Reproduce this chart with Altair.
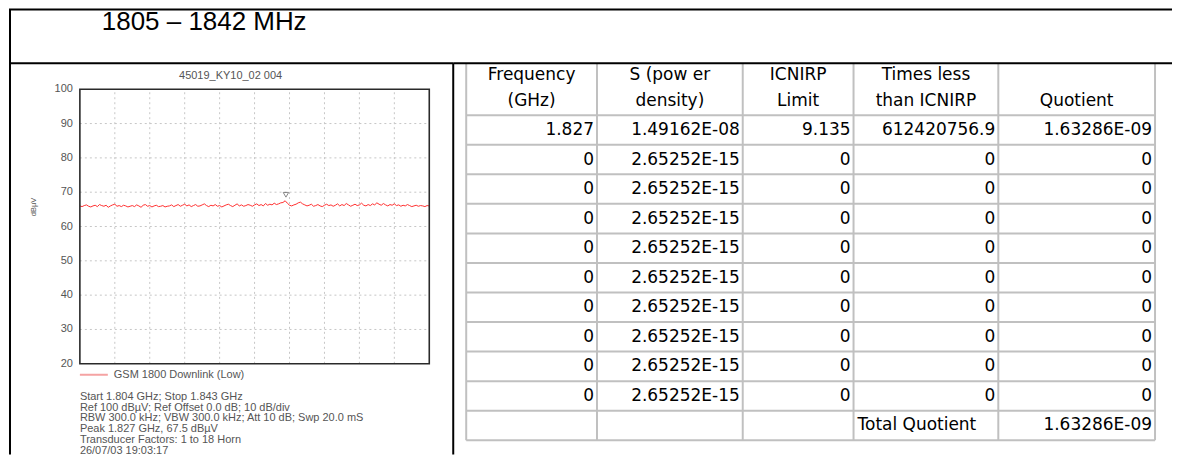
import altair as alt
import numpy as np
import pandas as pd

# ---------------- data ----------------
BAND_TITLE = "1805 – 1842 MHz"
PLOT_TITLE = "45019_KY10_02 004"
LEVEL_LABEL = "dBµV"
SERIES_NAME = "GSM 1800 Downlink (Low)"
INFO_LINES = [
    "Start 1.804 GHz; Stop 1.843 GHz",
    "Ref 100 dBµV; Ref Offset 0.0 dB; 10 dB/div",
    "RBW 300.0 kHz; VBW 300.0 kHz; Att 10 dB; Swp 20.0 mS",
    "Peak 1.827 GHz, 67.5 dBµV",
    "Transducer Factors: 1 to 18 Horn",
    "26/07/03 19:03:17",
]

FREQ_START_GHZ = 1.804
FREQ_STOP_GHZ = 1.843
LEVEL_TICKS = [20, 30, 40, 50, 60, 70, 80, 90, 100]
TRACE_DBUV = [
    66.0, 65.8, 66.1, 66.3, 65.9, 65.7, 66.0, 66.2, 65.8, 66.4,
    66.1, 65.9, 66.2, 65.6, 66.0, 66.3, 66.5, 65.9, 66.1, 65.8,
    66.2, 66.0, 65.7, 65.9, 66.1, 65.8, 66.3, 66.0, 65.6, 66.2,
    66.4, 65.9, 66.1, 65.7, 66.0, 66.2, 65.8, 65.9, 66.1, 65.7,
    65.9, 66.0, 66.3, 65.8, 66.1, 66.4, 65.9, 66.2, 66.5, 66.0,
    66.3, 65.8, 66.1, 66.4, 65.9, 66.0, 66.3, 66.6, 66.1, 65.8,
    66.2, 66.0, 66.4, 65.9, 66.1, 65.7, 66.0, 66.3, 66.5, 66.1,
    65.8, 66.2, 66.6, 66.0, 66.3, 65.9, 66.1, 66.4, 66.2, 65.9,
    66.3, 66.6, 66.1, 66.4, 66.0, 66.7, 66.2, 66.5, 66.3, 66.8,
    66.4, 66.6, 66.9, 67.0,
    67.5,
    66.8, 66.2, 66.0, 66.3, 66.5, 66.9, 67.1, 66.6, 66.3, 66.0,
    66.2, 66.5, 65.9, 66.1, 66.4, 66.0, 65.8, 66.2, 66.5, 66.1,
    66.3, 65.9, 66.2, 66.6, 66.0, 66.4, 66.1, 66.7, 66.3, 65.9,
    66.2, 66.5, 66.1, 66.3, 66.8, 66.2, 66.0, 66.4, 66.1, 66.6,
    66.3, 66.9, 66.5, 66.2, 66.7, 66.3, 66.0, 66.4, 66.2, 66.6,
    66.1, 66.3, 65.9, 66.2, 66.0, 66.4, 66.1, 65.8, 66.0, 66.2,
    65.9, 66.1, 66.0, 65.8, 66.1, 66.0,
]
PEAK_FREQ_GHZ = 1.827
PEAK_DBUV = 67.5

HEADER_LINE_1 = ["Frequency", "S (pow er", "ICNIRP", "Times less", ""]
HEADER_LINE_2 = ["(GHz)", "density)", "Limit", "than ICNIRP", "Quotient"]
FREQUENCY_GHZ = ["1.827", "0", "0", "0", "0", "0", "0", "0", "0", "0"]
S_POWER_DENSITY = ["1.49162E-08"] + ["2.65252E-15"] * 9
ICNIRP_LIMIT = ["9.135", "0", "0", "0", "0", "0", "0", "0", "0", "0"]
TIMES_LESS = ["612420756.9", "0", "0", "0", "0", "0", "0", "0", "0", "0"]
QUOTIENT = ["1.63286E-09", "0", "0", "0", "0", "0", "0", "0", "0", "0"]
TOTAL_LABEL = "Total Quotient"
TOTAL_QUOTIENT = "1.63286E-09"

# ---------------- layout (pixels) ----------------
FULL_W = 1165
HEAD_H = 55
BODY_H = 392
LEFT_W = 445
RIGHT_W = FULL_W - LEFT_W
PLOT_X = [71, 421]
PLOT_Y = [301, 26]
COL_EDGES = [13, 144, 290, 401, 546, 703]
TABLE_HEAD_H = 52
ROW_H = 29.6
HEAD_LINE_Y = [12, 38]
CELL_PAD = 3
SMALL_FONT = "Liberation Sans"
TABLE_FONT = "DejaVu Sans"
GRID_GRAY = "#c0c0c0"


def one(text=""):
    return pd.DataFrame({"t": [text]})


def px_rules(df, color, width):
    return alt.Chart(df).mark_rule(color=color, strokeWidth=width).encode(
        x=alt.X("x:Q", scale=None), x2="x2:Q",
        y=alt.Y("y:Q", scale=None), y2="y2:Q",
    )


# ---------------- header ----------------
head_lines = pd.DataFrame({
    "x": [0, 1], "x2": [FULL_W, 1],
    "y": [1, 1], "y2": [1, HEAD_H],
})
header = alt.layer(
    px_rules(head_lines, "black", 2),
    alt.Chart(one(BAND_TITLE)).mark_text(
        align="left", baseline="middle", font=SMALL_FONT, fontSize=26, color="#000"
    ).encode(x=alt.value(93), y=alt.value(14), text="t:N"),
).properties(width=FULL_W, height=HEAD_H)

# ---------------- spectrum panel ----------------
xs = alt.Scale(domain=[FREQ_START_GHZ, FREQ_STOP_GHZ], range=PLOT_X, nice=False, zero=False)
ys = alt.Scale(domain=[LEVEL_TICKS[0], LEVEL_TICKS[-1]], range=PLOT_Y, nice=False, zero=False)

span = FREQ_STOP_GHZ - FREQ_START_GHZ
hgrid = pd.DataFrame({"level": LEVEL_TICKS[1:-1]})
hgrid["f0"] = FREQ_START_GHZ
hgrid["f1"] = FREQ_STOP_GHZ
vgrid = pd.DataFrame({"freq": [FREQ_START_GHZ + span * i / 10 for i in range(1, 10)]})
vgrid["l0"] = LEVEL_TICKS[0]
vgrid["l1"] = LEVEL_TICKS[-1]
trace = pd.DataFrame({
    "freq": np.linspace(FREQ_START_GHZ, FREQ_STOP_GHZ, len(TRACE_DBUV)),
    "level": TRACE_DBUV,
})
frame = pd.DataFrame({"f0": [FREQ_START_GHZ], "f1": [FREQ_STOP_GHZ],
                      "l0": [LEVEL_TICKS[0]], "l1": [LEVEL_TICKS[-1]]})
peak = pd.DataFrame({"freq": [PEAK_FREQ_GHZ], "level": [PEAK_DBUV]})
ticks = pd.DataFrame({"tick": LEVEL_TICKS})

grid_style = dict(color="#c6c6c6", strokeWidth=1, strokeDash=[2, 3])
layers = [
    alt.Chart(hgrid).mark_rule(**grid_style).encode(
        x=alt.X("f0:Q", scale=xs, axis=None), x2="f1:Q",
        y=alt.Y("level:Q", scale=ys, axis=None)),
    alt.Chart(vgrid).mark_rule(**grid_style).encode(
        x=alt.X("freq:Q", scale=xs, axis=None),
        y=alt.Y("l0:Q", scale=ys, axis=None), y2="l1:Q"),
    alt.Chart(trace).mark_line(color="#ff3030", strokeWidth=1).encode(
        x=alt.X("freq:Q", scale=xs, axis=None),
        y=alt.Y("level:Q", scale=ys, axis=None)),
    alt.Chart(frame).mark_rect(fillOpacity=0, stroke="#2a2a2a", strokeWidth=1.6).encode(
        x=alt.X("f0:Q", scale=xs, axis=None), x2="f1:Q",
        y=alt.Y("l0:Q", scale=ys, axis=None), y2="l1:Q"),
    alt.Chart(peak).mark_point(shape="triangle-down", size=30, filled=False,
                               color="#555", strokeWidth=1, yOffset=-6).encode(
        x=alt.X("freq:Q", scale=xs, axis=None),
        y=alt.Y("level:Q", scale=ys, axis=None)),
    alt.Chart(ticks).mark_text(align="right", baseline="middle", font=SMALL_FONT,
                               fontSize=11, color="#555").encode(
        x=alt.value(64), y=alt.Y("tick:Q", scale=ys, axis=None), text="tick:Q"),
    alt.Chart(one(PLOT_TITLE)).mark_text(align="center", baseline="middle", font=SMALL_FONT,
                                         fontSize=11, color="#555").encode(
        x=alt.value(222), y=alt.value(13), text="t:N"),
    alt.Chart(one(LEVEL_LABEL)).mark_text(align="center", baseline="middle", font=SMALL_FONT,
                                          fontSize=7.5, color="#555", angle=270).encode(
        x=alt.value(25), y=alt.value(144), text="t:N"),
    alt.Chart(one()).mark_rule(color="#f5a3a3", strokeWidth=2).encode(
        x=alt.value(71), x2=alt.value(99), y=alt.value(312)),
    alt.Chart(one(SERIES_NAME)).mark_text(align="left", baseline="middle", font=SMALL_FONT,
                                          fontSize=11, color="#555").encode(
        x=alt.value(105), y=alt.value(312), text="t:N"),
]
for i, line in enumerate(INFO_LINES):
    layers.append(
        alt.Chart(one(line)).mark_text(align="left", baseline="middle", font=SMALL_FONT,
                                       fontSize=11, color="#555").encode(
            x=alt.value(71), y=alt.value(334 + i * 10.9), text="t:N"))
layers += [
    alt.Chart(one()).mark_rule(color="black", strokeWidth=2).encode(
        x=alt.value(1), y=alt.value(0), y2=alt.value(BODY_H)),
    alt.Chart(one()).mark_rule(color="black", strokeWidth=2).encode(
        x=alt.value(LEFT_W), y=alt.value(0), y2=alt.value(BODY_H)),
    alt.Chart(one()).mark_rule(color="black", strokeWidth=2).encode(
        x=alt.value(0), x2=alt.value(LEFT_W), y=alt.value(0)),
]
left = alt.layer(*layers).properties(width=LEFT_W, height=BODY_H)

# ---------------- table panel ----------------
n_rows = len(FREQUENCY_GHZ) + 1
row_lines = [TABLE_HEAD_H + k * ROW_H for k in range(n_rows + 1)]
table_bottom = row_lines[-1]
grid_df = pd.DataFrame({
    "x": [COL_EDGES[0]] * len(row_lines) + COL_EDGES,
    "x2": [COL_EDGES[-1]] * len(row_lines) + COL_EDGES,
    "y": row_lines + [0] * len(COL_EDGES),
    "y2": row_lines + [table_bottom] * len(COL_EDGES),
})

centers = [(a + b) / 2 for a, b in zip(COL_EDGES[:-1], COL_EDGES[1:])]
head_df = pd.DataFrame({
    "x": centers * 2,
    "y": [HEAD_LINE_Y[0]] * 5 + [HEAD_LINE_Y[1]] * 5,
    "t": HEADER_LINE_1 + HEADER_LINE_2,
})

columns = [FREQUENCY_GHZ, S_POWER_DENSITY, ICNIRP_LIMIT, TIMES_LESS, QUOTIENT]
cell_rows = []
for c, values in enumerate(columns):
    for r, v in enumerate(values):
        cell_rows.append({"x": COL_EDGES[c + 1] - CELL_PAD,
                          "y": TABLE_HEAD_H + ROW_H * (r + 0.5), "t": v})
cell_rows.append({"x": COL_EDGES[5] - CELL_PAD,
                  "y": TABLE_HEAD_H + ROW_H * (n_rows - 0.5), "t": TOTAL_QUOTIENT})
cells_df = pd.DataFrame(cell_rows)
total_df = pd.DataFrame({"x": [COL_EDGES[3] + CELL_PAD + 1],
                         "y": [TABLE_HEAD_H + ROW_H * (n_rows - 0.5)],
                         "t": [TOTAL_LABEL]})

txt = dict(baseline="middle", font=TABLE_FONT, fontSize=17, color="#000")
enc = dict(x=alt.X("x:Q", scale=None), y=alt.Y("y:Q", scale=None), text="t:N")
top_line = pd.DataFrame({"x": [0], "x2": [RIGHT_W], "y": [0], "y2": [0]})
right = alt.layer(
    px_rules(grid_df, GRID_GRAY, 2),
    px_rules(top_line, "black", 2),
    alt.Chart(head_df).mark_text(align="center", **txt).encode(**enc),
    alt.Chart(cells_df).mark_text(align="right", **txt).encode(**enc),
    alt.Chart(total_df).mark_text(align="left", **txt).encode(**enc),
).properties(width=RIGHT_W, height=BODY_H)

body = alt.hconcat(left, right, spacing=0, bounds="flush")
chart = alt.vconcat(header, body, spacing=0, bounds="flush").properties(
    padding=0
).configure_view(strokeWidth=0)

chart.save("out.html", embed_options={"renderer": "svg", "actions": False})
